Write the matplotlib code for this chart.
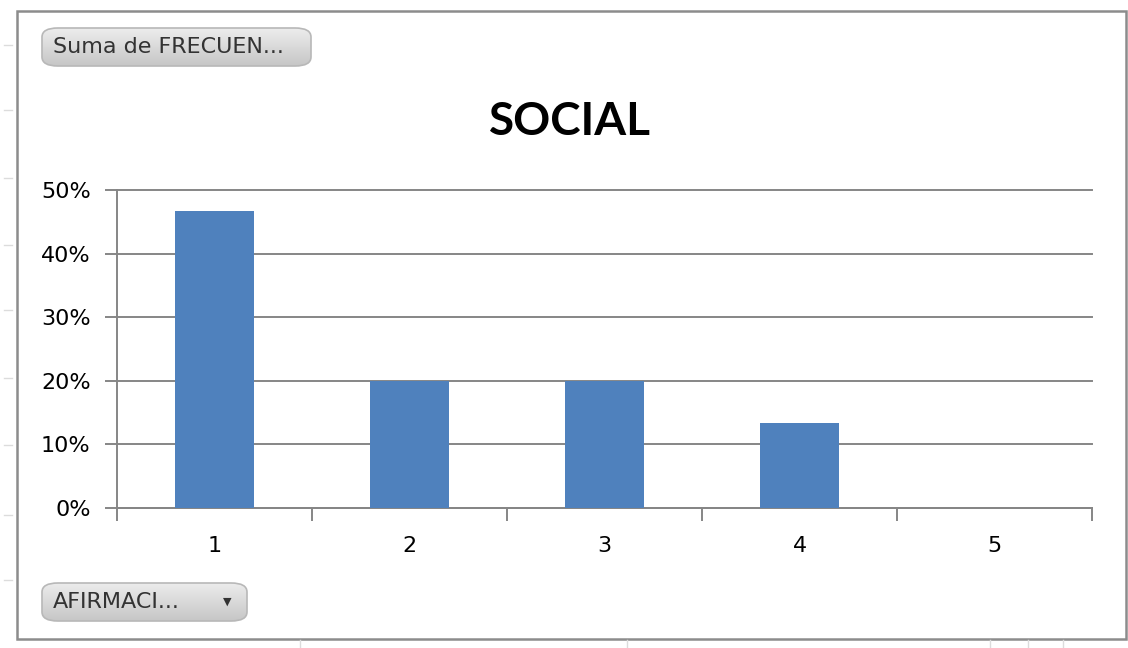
import matplotlib
matplotlib.use('Agg')
import matplotlib.pyplot as plt
from matplotlib.patches import FancyBboxPatch, Rectangle
from matplotlib.colors import LinearSegmentedColormap
from matplotlib.ticker import PercentFormatter
import numpy as np

# datos de la tabla dinamica
categorias = ['1', '2', '3', '4', '5']
frecuencia = [7, 3, 3, 2, 0]
total = 15
porcentajes = [f / total for f in frecuencia]
titulo = 'SOCIAL'
boton_valores = 'Suma de FRECUEN...'
boton_eje = 'AFIRMACI...'

azul = '#4F81BD'
gris = '#868686'

fig = plt.figure(figsize=(11.28, 6.48), dpi=100)
W, H = 1128, 648

def fx(px):
    return px / W

def fy(py):
    return 1 - py / H

# lineas tenues de la hoja de calculo de fondo
for yy in [45, 110, 178, 245, 310, 378, 445, 515, 580]:
    fig.add_artist(plt.Line2D([fx(4), fx(12)], [fy(yy), fy(yy)], color='#dcdcdc', lw=1))
for xx in [300, 627, 990, 1028, 1063]:
    fig.add_artist(plt.Line2D([fx(xx), fx(xx)], [fy(640), fy(648)], color='#dcdcdc', lw=1))

# marco del grafico
fig.add_artist(Rectangle((fx(17), fy(639)), fx(1126) - fx(17), fy(11) - fy(639),
                         fill=False, edgecolor='#8c8c8c', lw=1.8))

ax = fig.add_axes([fx(117), fy(508), fx(1092) - fx(117), fy(190) - fy(508)])
x = list(range(len(categorias)))
ax.bar(x, porcentajes, width=0.405, color=azul, zorder=3)

ax.set_ylim(0, 0.5)
ax.set_xlim(-0.5, len(categorias) - 0.5)
ax.set_yticks([0, 0.1, 0.2, 0.3, 0.4, 0.5])
ax.yaxis.set_major_formatter(PercentFormatter(1.0, decimals=0))
ax.grid(axis='y', color=gris, lw=1.4, zorder=0)
for g in ax.yaxis.get_gridlines():
    g.set_clip_on(False)

ax.set_xticks(x)
ax.set_xticklabels(categorias)
ax.set_xticks([i - 0.5 for i in range(len(categorias) + 1)], minor=True)
ax.tick_params(axis='x', which='major', length=0, pad=20, labelsize=16)
ax.tick_params(axis='x', which='minor', length=9, width=1.4, color=gris, direction='out')
ax.tick_params(axis='y', length=9, width=1.4, color=gris, direction='out', labelsize=16, pad=10)

for s in ['top', 'right']:
    ax.spines[s].set_visible(False)
for s in ['left', 'bottom']:
    ax.spines[s].set_color(gris)
    ax.spines[s].set_linewidth(1.4)
ax.set_facecolor('none')

fig.text(fx(570), fy(122), titulo, ha='center', va='center', fontsize=33,
         fontweight='bold', family='Lato')

# botones de la tabla dinamica, con degradado gris
grad = np.linspace(0, 1, 64).reshape(-1, 1)
cmap_boton = LinearSegmentedColormap.from_list('boton', ['#c6c6c6', '#ededed'])

def boton(x0, y0, x1, y1, texto, flecha=False):
    caja = FancyBboxPatch((fx(x0), fy(y1)), fx(x1) - fx(x0), fy(y0) - fy(y1),
                          boxstyle='round,pad=0,rounding_size=0.014',
                          facecolor='none', edgecolor='#b8b8b8', lw=1.2, zorder=5)
    fig.add_artist(caja)
    bax = fig.add_axes([fx(x0), fy(y1), fx(x1) - fx(x0), fy(y0) - fy(y1)], zorder=4)
    bax.axis('off')
    img = bax.imshow(grad, cmap=cmap_boton, aspect='auto', extent=[0, 1, 0, 1], origin='lower')
    img.set_clip_path(caja)
    fig.text(fx(x0 + 11), fy((y0 + y1) / 2), texto, ha='left', va='center',
             fontsize=16, color='#333333', zorder=6)
    if flecha:
        fig.text(fx(x1 - 20), fy((y0 + y1) / 2), '\u25BC', ha='center', va='center',
                 fontsize=8, color='#333333', zorder=6)

boton(42, 28, 311, 66, boton_valores)
boton(42, 583, 247, 621, boton_eje, flecha=True)

fig.savefig('out.png', dpi=100, facecolor='white')
